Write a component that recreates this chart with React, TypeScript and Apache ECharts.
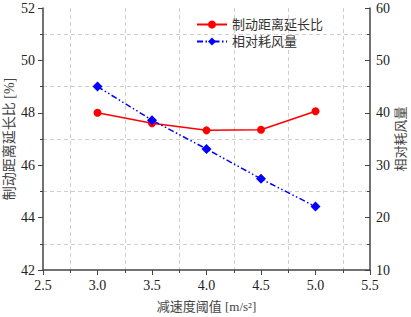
import React, { useEffect, useRef } from "react";
import * as echarts from "echarts";

const xValues = [3.0, 3.5, 4.0, 4.5, 5.0];
const brakingRatio = [48.0, 47.6, 47.33, 47.35, 48.06];
const airConsumption = [45.0, 38.6, 33.1, 27.4, 22.1];
const seriesNames = ["制动距离延长比", "相对耗风量"];

const serif = "'Liberation Serif', 'Times New Roman', 'Noto Sans CJK SC', serif";

export default function App() {
  const ref = useRef<HTMLDivElement>(null);
  useEffect(() => {
    const chart = echarts.init(ref.current!, null, { renderer: "svg" });
    const axisLine = { show: true, lineStyle: { color: "#444", width: 1.5 } };
    const minorSplit = { show: true, lineStyle: { color: "#cfcfcf", type: [4, 3], width: 1 } };
    chart.setOption({
      animation: false,
      backgroundColor: "#fff",
      grid: { left: 43, right: 41, top: 8, bottom: 47, containLabel: false, outerBoundsMode: "none" },
      legend: {
        left: 196,
        top: 18,
        padding: 0,
        orient: "vertical",
        itemWidth: 30,
        itemHeight: 10,
        itemGap: 4,
        textStyle: { fontFamily: serif, fontSize: 13, color: "#333" },
        data: seriesNames,
      },
      xAxis: {
        type: "value",
        min: 2.5,
        max: 5.5,
        interval: 0.5,
        name: "减速度阈值 [m/s²]",
        nameLocation: "middle",
        nameMoveOverlap: false,
        nameGap: 30,
        nameTextStyle: { fontFamily: serif, fontSize: 13, color: "#444" },
        axisLine,
        axisTick: { show: true, length: 5, lineStyle: { color: "#444" } },
        minorTick: { show: true, splitNumber: 2, length: 3, lineStyle: { color: "#444" } },
        axisLabel: {
          fontFamily: serif,
          fontSize: 14,
          color: "#222",
          margin: 8,
          formatter: (v: number) => v.toFixed(1),
        },
        splitLine: { show: false },
        minorSplitLine: minorSplit,
      },
      yAxis: [
        {
          type: "value",
          min: 42,
          max: 52,
          interval: 2,
          name: "制动距离延长比 [%]",
          nameLocation: "middle",
          nameMoveOverlap: false,
          nameGap: 27,
          nameTextStyle: { fontFamily: serif, fontSize: 14, color: "#444" },
          axisLine,
          axisTick: { show: true, length: 5, lineStyle: { color: "#444" } },
          minorTick: { show: true, splitNumber: 2, length: 3, lineStyle: { color: "#444" } },
          axisLabel: { fontFamily: serif, fontSize: 14, color: "#222", margin: 8 },
          splitLine: { show: false },
          minorSplitLine: minorSplit,
        },
        {
          type: "value",
          min: 10,
          max: 60,
          interval: 10,
          position: "right",
          name: "相对耗风量",
          nameLocation: "middle",
          nameMoveOverlap: false,
          nameGap: 24,
          nameTextStyle: { fontFamily: serif, fontSize: 13, color: "#444" },
          axisLine,
          axisTick: { show: true, inside: true, length: 5, lineStyle: { color: "#444" } },
          minorTick: { show: true, splitNumber: 2, length: 3, lineStyle: { color: "#444" } },
          axisLabel: { fontFamily: serif, fontSize: 14, color: "#222", margin: 6 },
          splitLine: { show: false },
          minorSplitLine: { show: false },
        },
      ],
      series: [
        {
          name: seriesNames[0],
          type: "line",
          yAxisIndex: 0,
          data: xValues.map((x, i) => [x, brakingRatio[i]]),
          symbol: "circle",
          symbolSize: 8,
          itemStyle: { color: "#ff0000" },
          lineStyle: { color: "#ff0000", width: 1.5 },
        },
        {
          name: seriesNames[1],
          type: "line",
          yAxisIndex: 1,
          data: xValues.map((x, i) => [x, airConsumption[i]]),
          symbol: "diamond",
          symbolSize: 10,
          itemStyle: { color: "#0000ff" },
          lineStyle: { color: "#0000ff", width: 1.5, type: [6, 2.5, 1.5, 2.5, 1.5, 2.5] },
        },
      ],
    });
    return () => chart.dispose();
  }, []);
  return <div ref={ref} style={{ width: 411, height: 317, position: "absolute", left: 0, top: 0 }} />;
}
